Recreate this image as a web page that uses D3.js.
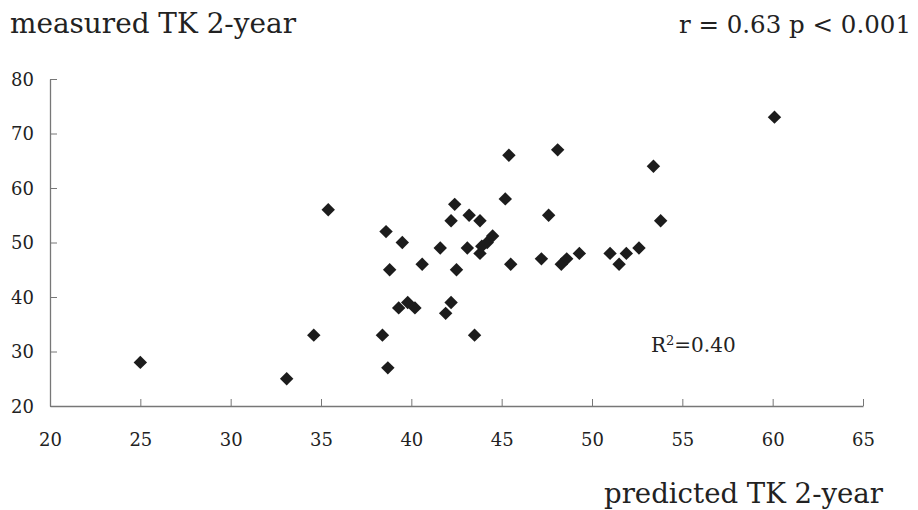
<!DOCTYPE html>
<html>
<head>
<meta charset="utf-8">
<script src="https://cdn.jsdelivr.net/npm/d3@7/dist/d3.min.js"></script>
<style>
  body { margin: 0; background: #fff; }
  svg text { font-family: "DejaVu Serif", "Liberation Serif", serif; fill: #222; }
</style>
</head>
<body>
<svg id="chart" width="918" height="510"></svg>
<script>
// predicted TK 2-year (x) and measured TK 2-year (y)
const predicted = [25, 33.1, 34.6, 35.4, 38.4, 38.7, 38.6, 38.8, 39.5, 39.3,
                   39.8, 40.2, 40.6, 41.6, 41.9, 42.2, 42.2, 42.4, 42.5, 43.2,
                   43.8, 43.1, 43.8, 43.9, 44.2, 44.5, 43.5, 45.2, 45.4, 45.5,
                   47.2, 47.6, 48.1, 48.3, 48.6, 49.3, 51.0, 51.5, 51.9, 52.6,
                   53.4, 53.8, 60.1];
const measured  = [28, 25, 33, 56, 33, 27, 52, 45, 50, 38,
                   39, 38, 46, 49, 37, 39, 54, 57, 45, 55,
                   54, 49, 48, 49.3, 50, 51.2, 33, 58, 66, 46,
                   47, 55, 67, 46, 47, 48, 48, 46, 48, 49,
                   64, 54, 73];

const xTicks = [20, 25, 30, 35, 40, 45, 50, 55, 60, 65];
const yTicks = [20, 30, 40, 50, 60, 70, 80];

const yTitle = "measured TK 2-year";
const xTitle = "predicted TK 2-year";
const statsText = "r = 0.63 p < 0.001";
const r2Text = ["R", "2", "=0.40"];

const margin = {top: 79, right: 55, bottom: 104, left: 50};
const width = 918, height = 510;

const svg = d3.select("#chart");

const x = d3.scaleLinear()
    .domain([20, 65])
    .range([margin.left, width - margin.right]);

const y = d3.scaleLinear()
    .domain([20, 80])
    .range([height - margin.bottom, margin.top]);

// x axis, ticks pointing up into the plot
const gx = svg.append("g")
    .attr("transform", "translate(0," + y(20) + ")")
    .call(d3.axisBottom(x).tickValues(xTicks).tickSize(-7).tickSizeOuter(0));
gx.select(".domain").attr("stroke", "#777").attr("stroke-width", 1.3);
gx.selectAll(".tick line").attr("stroke", "#777");
gx.selectAll(".tick text")
    .attr("y", 40).attr("dy", 0)
    .style("font-size", "18px");

// y axis, ticks pointing right into the plot
const gy = svg.append("g")
    .attr("transform", "translate(" + x(20) + ",0)")
    .call(d3.axisLeft(y).tickValues(yTicks).tickSize(-7).tickSizeOuter(0));
gy.select(".domain").attr("stroke", "#777").attr("stroke-width", 1.3);
gy.selectAll(".tick line").attr("stroke", "#777");
gy.selectAll(".tick text")
    .attr("x", -16).attr("dy", "0.36em")
    .style("font-size", "18px");

svg.selectAll("text").attr("font-family", null);

// points
const diamond = d3.symbol(d3.symbolSquare, 90);
svg.append("g")
    .selectAll("path")
    .data(predicted.map((p, i) => ({x: p, y: measured[i]})))
    .join("path")
    .attr("d", diamond)
    .attr("fill", "#1c1c1c")
    .attr("transform", d => "translate(" + x(d.x) + "," + y(d.y) + ") rotate(45)");

// titles
svg.append("text")
    .attr("x", 10).attr("y", 33)
    .attr("textLength", 286).attr("lengthAdjust", "spacingAndGlyphs")
    .style("font-size", "27px")
    .text(yTitle);

svg.append("text")
    .attr("x", 911).attr("y", 33)
    .attr("text-anchor", "end")
    .style("font-size", "24.5px")
    .text(statsText);

svg.append("text")
    .attr("x", 883).attr("y", 503)
    .attr("text-anchor", "end")
    .attr("textLength", 279).attr("lengthAdjust", "spacingAndGlyphs")
    .style("font-size", "27px")
    .text(xTitle);

const r2 = svg.append("text")
    .attr("x", 651).attr("y", 352)
    .style("font-size", "20px");
r2.append("tspan").text(r2Text[0]);
r2.append("tspan").attr("dy", -7).style("font-size", "13px").text(r2Text[1]);
r2.append("tspan").attr("dy", 7).text(r2Text[2]);
</script>
</body>
</html>
